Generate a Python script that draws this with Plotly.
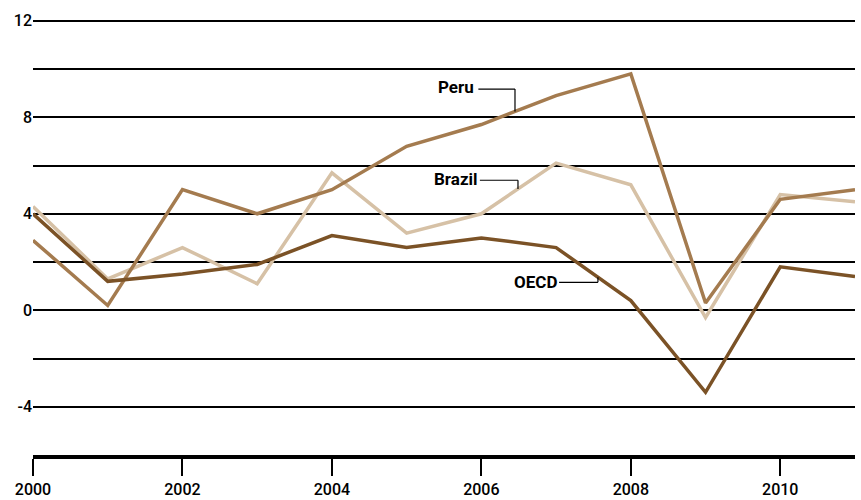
import plotly.graph_objects as go

years = list(range(2000, 2012))
peru = [2.9, 0.2, 5.0, 4.0, 5.0, 6.8, 7.7, 8.9, 9.8, 0.3, 4.6, 5.0]
brazil = [4.3, 1.3, 2.6, 1.1, 5.7, 3.2, 4.0, 6.1, 5.2, -0.3, 4.8, 4.5]
oecd = [4.0, 1.2, 1.5, 1.9, 3.1, 2.6, 3.0, 2.6, 0.4, -3.4, 1.8, 1.4]

x_tickvals = [2000, 2002, 2004, 2006, 2008, 2010]
x_ticktext = ["2000", "2002", "2004", "2006", "2008", "2010"]
y_tickvals = [-6, -4, -2, 0, 2, 4, 6, 8, 10, 12]
y_ticktext = ["", "-4", "", "0", "", "4", "", "8", "", "12"]

C_PERU = "#a47b4f"
C_BRAZIL = "#d6c1a6"
C_OECD = "#7b5226"

FONT = "Roboto, Liberation Sans Narrow, DejaVu Sans, sans-serif"

fig = go.Figure()
fig.add_trace(go.Scatter(x=years, y=brazil, mode="lines", name="Brazil",
                         line=dict(color=C_BRAZIL, width=3.5)))
fig.add_trace(go.Scatter(x=years, y=peru, mode="lines", name="Peru",
                         line=dict(color=C_PERU, width=3.5)))
fig.add_trace(go.Scatter(x=years, y=oecd, mode="lines", name="OECD",
                         line=dict(color=C_OECD, width=3.5)))

def interp(series, xv):
    i = int(xv) - 2000
    f = xv - int(xv)
    return series[i] + f * (series[i + 1] - series[i])

labels = [
    # name, series, text x, text y, leader start x, leader end x, leader y
    ("Peru", peru, 2005.66, 9.25, 2005.96, 2006.45, 9.17),
    ("Brazil", brazil, 2005.66, 5.44, 2005.98, 2006.49, 5.39),
    ("OECD", oecd, 2006.73, 1.16, 2007.04, 2007.56, 1.16),
]
for name, s, tx, ty, lx0, lx1, ly in labels:
    fig.add_annotation(x=tx, y=ty, text="<b>%s</b>" % name, showarrow=False,
                       font=dict(family=FONT, size=17, color="black"),
                       xanchor="center", yanchor="middle")
    yend = interp(s, lx1)
    fig.add_shape(type="line", x0=lx0, x1=lx1, y0=ly, y1=ly,
                  line=dict(color="black", width=1.2))
    if abs(yend - ly) > 0.05:
        fig.add_shape(type="line", x0=lx1, x1=lx1, y0=ly, y1=yend,
                      line=dict(color="black", width=1.2))

fig.update_layout(
    width=861, height=500,
    margin=dict(l=33, r=6, t=16, b=45),
    paper_bgcolor="white", plot_bgcolor="white",
    showlegend=False,
    font=dict(family=FONT, color="black"),
)
fig.update_xaxes(
    range=[2000, 2011], tickvals=x_tickvals, ticktext=x_ticktext,
    showgrid=False, zeroline=False, automargin=False,
    showline=True, linecolor="black", linewidth=4,
    ticks="outside", ticklen=17, tickwidth=2, tickcolor="black",
    tickfont=dict(family=FONT, size=16, color="black", weight=500),
)
fig.update_yaxes(
    range=[-6, 12.2], tickvals=y_tickvals, ticktext=y_ticktext,
    showgrid=True, gridcolor="black", gridwidth=1.5, automargin=False,
    zeroline=False, showline=False, ticks="",
    tickfont=dict(family=FONT, size=16, color="black", weight=500),
)

fig.write_html("out.html",
               config={"displayModeBar": False},
               post_script="document.body.style.margin='0';document.body.style.overflow='hidden';")
